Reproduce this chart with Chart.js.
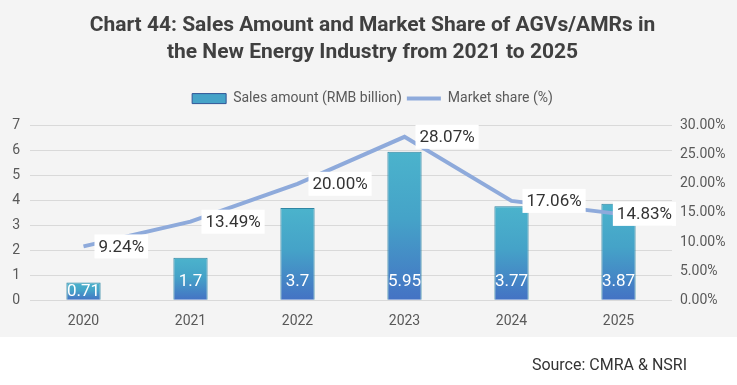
<!DOCTYPE html>
<html>
<head>
    <title>Chart 44</title>
    <meta charset="UTF-8">
    <script src="https://cdn.jsdelivr.net/npm/chart.js"></script>
    <style>
        body { margin: 0; background: #ffffff; }
        #wrap { width: 737px; height: 385px; }
    </style>
</head>
<body>
    <div id="wrap"><canvas id="chart" width="737" height="385"></canvas></div>

    <script>
        // Dados
        const anos = ['2020', '2021', '2022', '2023', '2024', '2025'];
        const vendas = [0.71, 1.7, 3.7, 5.95, 3.77, 3.87];
        const participacao = [9.24, 13.49, 20.00, 28.07, 17.06, 14.83];
        const tituloLinhas = [
            'Chart 44: Sales Amount and Market Share of AGVs/AMRs in',
            'the New Energy Industry from 2021 to 2025'
        ];
        const fonte = 'Source: CMRA & NSRI';

        const FONT = 'Roboto';

        // Gradiente de cada barra (topo verde-azulado, base azul)
        function barGradient(ctx) {
            const chart = ctx.chart;
            if (!chart.chartArea || ctx.raw === undefined) return '#46a7c9';
            const y = chart.scales.y;
            const top = y.getPixelForValue(ctx.raw);
            const bot = y.getPixelForValue(0);
            if (!isFinite(top) || bot - top < 1) return '#46a7c9';
            const g = chart.ctx.createLinearGradient(0, top, 0, bot);
            g.addColorStop(0, '#4bb3cc');
            g.addColorStop(0.45, '#45a3c8');
            g.addColorStop(1, '#4472c4');
            return g;
        }

        // Fundo cinza + texto da fonte
        const fundo = {
            id: 'fundo',
            afterInit(chart) {
                // espaço extra abaixo da legenda
                const lg = chart.legend;
                if (lg && !lg._patched) {
                    const orig = lg.fit;
                    lg.fit = function () { orig.call(this); this.height += 10; };
                    lg._patched = true;
                }
            },
            beforeDraw(chart) {
                const c = chart.ctx;
                c.save();
                c.fillStyle = '#ffffff';
                c.fillRect(0, 0, chart.width, chart.height);
                c.fillStyle = '#f4f4f4';
                c.fillRect(0, 0, chart.width, 337);
                c.restore();
            },
            afterDraw(chart) {
                const c = chart.ctx;
                c.save();
                c.font = '16px ' + FONT;
                c.fillStyle = '#333333';
                c.textAlign = 'right';
                c.textBaseline = 'middle';
                c.fillText(fonte, 687, 366);
                c.restore();
            }
        };

        // Rótulos das barras e da linha
        const rotulos = {
            id: 'rotulos',
            afterDatasetsDraw(chart) {
                const c = chart.ctx;
                const area = chart.chartArea;
                c.save();

                // barras: texto branco perto da base
                c.font = '17px ' + FONT;
                c.fillStyle = '#ffffff';
                c.textAlign = 'center';
                c.textBaseline = 'middle';
                chart.getDatasetMeta(0).data.forEach((el, i) => {
                    const y = Math.max(el.base - 19, (el.y + el.base) / 2);
                    c.fillText(String(vendas[i]), el.x, y + 1);
                });

                // linha: caixa branca à direita do ponto
                c.font = '17px ' + FONT;
                c.textAlign = 'left';
                chart.getDatasetMeta(1).data.forEach((el, i) => {
                    const txt = participacao[i].toFixed(2) + '%';
                    const w = c.measureText(txt).width + 8;
                    const h = 24;
                    let x0 = el.x + 11;
                    if (x0 + w > area.right + 4) x0 = area.right + 4 - w;
                    const y0 = el.y - h / 2;
                    c.fillStyle = '#ffffff';
                    c.fillRect(x0, y0, w, h);
                    c.fillStyle = '#333333';
                    c.fillText(txt, x0 + 4, el.y + 1);
                });
                c.restore();
            }
        };

        new Chart(document.getElementById('chart'), {
            type: 'bar',
            data: {
                labels: anos,
                datasets: [
                    {
                        label: 'Sales amount (RMB billion)',
                        data: vendas,
                        yAxisID: 'y',
                        backgroundColor: barGradient,
                        borderColor: '#2f86a3',
                        borderWidth: 1,
                        barPercentage: 0.32,
                        categoryPercentage: 1,
                        order: 2
                    },
                    {
                        type: 'line',
                        label: 'Market share (%)',
                        data: participacao,
                        yAxisID: 'y1',
                        borderColor: '#8eaadb',
                        backgroundColor: '#8eaadb',
                        borderWidth: 4,
                        pointRadius: 0,
                        tension: 0,
                        order: 1
                    }
                ]
            },
            options: {
                responsive: false,
                animation: false,
                layout: {
                    padding: { left: 8, right: 0, top: 0, bottom: 50 }
                },
                plugins: {
                    title: {
                        display: true,
                        text: tituloLinhas,
                        color: '#404040',
                        font: { family: FONT, size: 21, weight: 'bold', lineHeight: 1.3 },
                        padding: { top: 12, bottom: 20 }
                    },
                    legend: {
                        position: 'top',
                        labels: {
                            usePointStyle: true,
                            pointStyleWidth: 34,
                            boxHeight: 10,
                            color: '#595959',
                            font: { family: FONT, size: 14 },
                            padding: 5,
                            sort: (a, b) => a.datasetIndex - b.datasetIndex,
                            generateLabels(chart) {
                                const itens = Chart.defaults.plugins.legend.labels.generateLabels(chart);
                                itens.forEach(it => {
                                    if (it.datasetIndex === 0) {
                                        it.pointStyle = 'rect';
                                        it.fillStyle = '#45a3c8';
                                        it.strokeStyle = '#2f5597';
                                        it.lineWidth = 1;
                                    } else {
                                        it.pointStyle = 'line';
                                        it.strokeStyle = '#8eaadb';
                                        it.lineWidth = 4;
                                    }
                                });
                                return itens;
                            }
                        }
                    },
                    tooltip: { enabled: false }
                },
                scales: {
                    x: {
                        grid: { display: false },
                        border: { display: false },
                        ticks: {
                            color: '#595959',
                            font: { family: FONT, size: 14 },
                            padding: 5
                        }
                    },
                    y: {
                        position: 'left',
                        min: 0,
                        max: 7,
                        grid: { color: '#d9d9d9', drawTicks: false },
                        border: { display: false },
                        ticks: {
                            stepSize: 1,
                            color: '#595959',
                            font: { family: FONT, size: 14 },
                            padding: 10
                        },
                        afterFit(scale) { scale.width = 22; }
                    },
                    y1: {
                        position: 'right',
                        min: 0,
                        max: 30,
                        grid: { display: false, drawTicks: false },
                        border: { display: false },
                        ticks: {
                            stepSize: 5,
                            color: '#595959',
                            font: { family: FONT, size: 14 },
                            padding: 8,
                            callback: v => v.toFixed(2) + '%'
                        },
                        afterFit(scale) { scale.width = 65; }
                    }
                }
            },
            plugins: [fundo, rotulos]
        });
    </script>
</body>
</html>
